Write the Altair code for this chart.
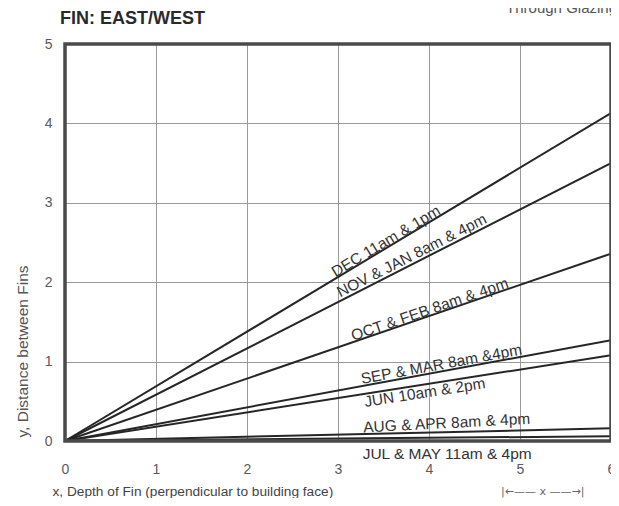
import math
import altair as alt
import pandas as pd

# ---- data ----
series = [
    "DEC 11am & 1pm",
    "NOV & JAN 8am & 4pm",
    "OCT & FEB 8am & 4pm",
    "SEP & MAR 8am &4pm",
    "JUN 10am & 2pm",
    "AUG & APR 8am & 4pm",
    "JUL & MAY 11am & 4pm",
]
x_start = [0.0, 0.0, 0.0, 0.0, 0.0, 0.0, 0.0]
y_start = [0.0, 0.0, 0.0, 0.0, 0.0, 0.0, 0.0]
x_end = [6.0, 6.0, 6.0, 6.0, 6.0, 6.0, 6.0]
y_end = [4.13, 3.50, 2.36, 1.27, 1.08, 0.16, 0.06]
label_x = [3.56, 3.85, 4.03, 4.15, 3.94, 4.20, 4.20]
x_ticks = [0, 1, 2, 3, 4, 5, 6]
y_ticks = [0, 1, 2, 3, 4, 5]
x_domain = [0, 6]
y_domain = [0, 5]
title_text = "FIN: EAST/WEST"
corner_text = "Through Glazing"
x_title = "x, Depth of Fin (perpendicular to building face)"
y_title = "y, Distance between Fins"
dim_text = "|\u2190\u2014\u2014 x \u2014\u2014\u2192|"
dim_x = [5.25]

# ---- styling ----
W, H = 546, 397
FONT = "Liberation Sans"
label_dy = [-6, -8, -6, -7, 8, -9, 16]
angle_override = {5: 3.0, 6: 0.0}

rows = []
for s, xa, ya, xb, yb in zip(series, x_start, y_start, x_end, y_end):
    rows.append({"series": s, "x": xa, "y": ya})
    rows.append({"series": s, "x": xb, "y": yb})
lines_df = pd.DataFrame(rows)

xs = alt.Scale(domain=x_domain, nice=False, zero=False)
ys = alt.Scale(domain=y_domain, nice=False, zero=False)

x_axis = alt.Axis(
    values=x_ticks, format="d", grid=True, ticks=False, domain=False,
    labelPadding=21, labelFontSize=14, labelColor="#5a5a5a", labelFont=FONT,
    labelFlush=False,
    gridColor="#8f8f8f", gridWidth=0.9,
    title=x_title, titleFont=FONT, titleFontSize=13.7, titleFontWeight="normal",
    titleColor="#444", titleX=-13, titleY=50, titleAlign="left",
    titleBaseline="middle",
)
y_axis = alt.Axis(
    values=y_ticks, format="d", grid=True, ticks=False, domain=False,
    labelPadding=13, labelFontSize=14, labelColor="#5a5a5a", labelFont=FONT,
    labelFlush=False,
    gridColor="#8f8f8f", gridWidth=0.9,
    title=y_title, titleFont=FONT, titleFontSize=15.5, titleFontWeight="normal",
    titleColor="#555", titleAngle=270, titleX=-43, titleY=393,
    titleAlign="left", titleBaseline="middle",
)

lines = alt.Chart(lines_df).mark_line(color="#262626", strokeWidth=2).encode(
    x=alt.X("x:Q", scale=xs, axis=x_axis),
    y=alt.Y("y:Q", scale=ys, axis=y_axis),
    detail="series:N",
)

layers = [lines]
for i, s in enumerate(series):
    lx = label_x[i]
    ly = y_end[i] * lx / x_end[i]
    if i in angle_override:
        a = angle_override[i]
    else:
        a = math.degrees(math.atan((y_end[i] / x_end[i]) * (H / 5.0) / (W / 6.0)))
    ang = (360.0 - a) % 360.0
    df = pd.DataFrame({"x": [lx], "y": [ly], "t": [s]})
    layers.append(
        alt.Chart(df).mark_text(
            angle=ang, dy=label_dy[i], fontSize=15.5, font=FONT, color="#333",
            align="center", baseline="middle",
        ).encode(x=alt.X("x:Q", scale=xs), y=alt.Y("y:Q", scale=ys), text="t:N")
    )

# frame around the plot area (drawn through the scales, on top of the grid)
frame_df = pd.DataFrame({"x": [x_domain[0]], "x2": [x_domain[1]],
                         "y": [y_domain[0]], "y2": [y_domain[1]]})
layers.append(
    alt.Chart(frame_df).mark_rect(
        fill="white", fillOpacity=0, stroke="#4a4a4a", strokeWidth=3.5,
    ).encode(x=alt.X("x:Q", scale=xs), x2="x2:Q",
             y=alt.Y("y:Q", scale=ys), y2="y2:Q")
)

title_df = pd.DataFrame({"x": [x_domain[0]], "y": [y_domain[1]], "t": [title_text]})
layers.append(
    alt.Chart(title_df).mark_text(
        align="left", baseline="alphabetic", dx=-5, dy=-20, fontSize=18,
        fontWeight="bold", font=FONT, color="#2a2a2a",
    ).encode(x=alt.X("x:Q", scale=xs), y=alt.Y("y:Q", scale=ys), text="t:N")
)

corner_df = pd.DataFrame({"x": [x_domain[1]], "y": [y_domain[1]], "t": [corner_text]})
layers.append(
    alt.Chart(corner_df).mark_text(
        align="right", baseline="alphabetic", dx=6, dy=-31, fontSize=15,
        font=FONT, color="#555",
    ).encode(x=alt.X("x:Q", scale=xs), y=alt.Y("y:Q", scale=ys), text="t:N")
)

dim_df = pd.DataFrame({"x": dim_x, "y": [0.0], "t": [dim_text]})
layers.append(
    alt.Chart(dim_df).mark_text(
        dy=51, fontSize=11, font="DejaVu Sans", color="#666",
        align="center", baseline="middle",
    ).encode(x=alt.X("x:Q", scale=xs), y=alt.Y("y:Q", scale=ys), text="t:N")
)

chart = alt.layer(*layers).properties(
    width=W,
    height=H,
    padding={"left": 57, "top": 36, "right": 0, "bottom": 57},
    autosize=alt.AutoSizeParams(type="none"),
    background="white",
).configure_view(stroke=None)

chart.save("out.html", embed_options={"renderer": "svg", "actions": False})
